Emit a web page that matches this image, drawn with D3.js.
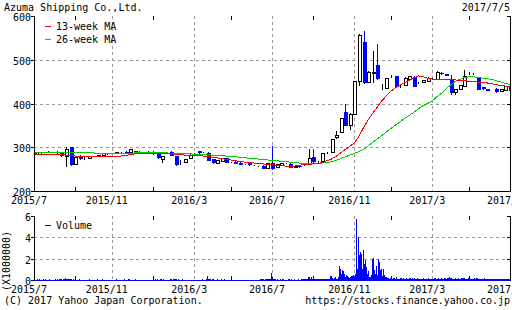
<!DOCTYPE html>
<html>
<head>
<meta charset="utf-8">
<script src="https://cdn.jsdelivr.net/npm/d3@7"></script>
<style>
body { margin: 0; background: #fff; }
svg { display: block; }
text { font-family: "DejaVu Sans Mono", monospace; font-size: 10px; fill: #000; }
</style>
</head>
<body>
<svg width="512" height="310"></svg>
<script>
// weekly candles, 2015/7/6 .. 2017/7/3 (one entry per week)
const opens = [290,283,288,287,288,290,289,278,300,261, 281,275,274,279,278,281,285,286,285,287,
  290,288,291,290,290,289,290,284,273,286, 290,279,267,266,275,285,291,288,288,273,
  264,267,275,265,267,265,260,263,259,256, 258,251,263,254,258,264,262,253,257,260,
  263,277,266,267,286,288,322,333,381,349, 375,450,540,448,468,488,440,435,460,463,
  440,441,455,460,447,447,450,456,454,470, 467,455,425,433,440,468,468,458,437,433,
  431,434,427,430,440];
const closes = [282,289,288,289,288,286,279,295,260,277, 273,275,279,279,282,286,285,286,288,287,
  285,296,285,285,286,289,284,275,279,286, 280,259,267,273,282,285,286,288,269,263,
  270,274,265,265,262,260,260,259,259,256, 251,262,250,260,263,264,253,257,254,260,
  275,266,266,285,286,317,326,365,349,376, 450,555,446,471,472,455,440,458,460,438,
  440,458,462,438,447,452,458,456,470,467, 463,425,432,441,461,468,468,432,433,429,
  431,427,432,440,429];
const highs = [292,290,290,291,289,291,290,300,301,278, 282,277,280,280,283,287,287,288,289,289,
  291,297,292,291,290,292,291,285,281,288, 291,280,270,274,284,287,292,290,289,274,
  271,275,276,267,268,266,261,264,260,258, 259,263,303,261,264,265,263,258,258,261,
  297,297,268,287,290,320,338,367,400,378, 451,558,566,475,520,537,445,459,465,464,
  444,460,463,462,449,453,460,458,475,471, 468,466,434,442,476,472,470,460,438,434,
  432,435,433,441,441];
const lows = [280,282,286,286,287,285,278,256,258,259, 272,272,273,278,277,280,283,284,284,285,
  284,287,284,284,285,287,283,274,264,284, 279,258,259,265,274,284,285,286,268,262,
  263,266,264,264,261,259,259,258,258,255, 250,250,248,252,257,262,252,252,253,258,
  262,265,264,266,284,287,318,332,348,340, 373,440,444,446,446,453,432,434,458,437,
  436,440,453,437,445,446,449,454,453,466, 462,420,420,432,439,465,466,430,432,428,
  430,424,426,428,428];
const ma13 = [285,284,284,284,283,283,283,282,281,280, 280,279,279,279,279,279,279,279,279,280,
  281,283,285,286,286,286,286,286,285,285, 285,284,283,282,281,281,281,280,279,277,
  276,274,272,271,269,268,266,265,264,263, 262,261,260,259,258,257,257,257,259,260,
  261,262,263,265,269,273,279,287,295,302, 310,325,345,362,378,392,406,418,428,436,
  442,448,453,459,463,461,458,456,455,454, 454,454,454,453,452,451,450,449,448,447,
  445,443,441,440,438];
const ma26 = [289,289,289,289,289,289,289,289,288,288, 288,287,287,287,286,286,286,286,286,286,
  286,286,287,287,287,287,287,287,287,287, 286,286,286,285,285,284,284,283,283,282,
  282,281,280,279,278,277,276,275,274,273, 272,271,270,269,268,267,266,265,264,264,
  264,264,264,264,265,267,270,274,278,282, 286,290,295,303,311,319,327,335,343,351,
  358,366,373,380,388,395,400,406,415,423, 433,442,450,455,459,461,461,460,458,457,
  455,452,449,446,443];
// daily volume in millions of shares, five trading days per week
const volume = [
  [0.06,0.04,0.05,0.03,0.04],[0.03,0.05,0.04,0.06,0.03],[0.04,0.03,0.05,0.04,0.02],[0.05,0.04,0.03,0.04,0.05],
  [0.03,0.02,0.04,0.03,0.04],[0.04,0.06,0.03,0.05,0.04],[0.05,0.07,0.06,0.04,0.05],[0.08,0.16,0.12,0.07,0.05],
  [0.1,0.08,0.06,0.05,0.04],[0.05,0.04,0.06,0.03,0.04],[0.04,0.03,0.05,0.04,0.03],[0.03,0.04,0.02,0.03,0.04],
  [0.04,0.03,0.04,0.05,0.03],[0.03,0.02,0.03,0.04,0.03],[0.04,0.05,0.03,0.04,0.03],[0.03,0.04,0.05,0.03,0.02],
  [0.02,0.03,0.04,0.03,0.03],[0.03,0.04,0.03,0.02,0.04],[0.04,0.03,0.05,0.04,0.03],[0.03,0.02,0.03,0.04,0.03],
  [0.04,0.05,0.03,0.04,0.03],[0.05,0.06,0.04,0.03,0.04],[0.04,0.03,0.04,0.05,0.03],[0.03,0.04,0.03,0.02,0.03],
  [0.03,0.02,0.04,0.03,0.02],[0.04,0.03,0.03,0.04,0.03],[0.03,0.04,0.05,0.03,0.04],[0.05,0.04,0.06,0.04,0.03],
  [0.06,0.05,0.04,0.05,0.04],[0.03,0.04,0.03,0.03,0.04],[0.04,0.05,0.06,0.04,0.05],[0.07,0.06,0.08,0.05,0.04],
  [0.05,0.04,0.03,0.04,0.05],[0.04,0.03,0.04,0.03,0.04],[0.03,0.04,0.03,0.04,0.03],[0.03,0.02,0.03,0.04,0.03],
  [0.04,0.03,0.03,0.02,0.04],[0.04,0.05,0.04,0.03,0.04],[0.06,0.36,0.12,0.06,0.05],[0.05,0.04,0.06,0.05,0.04],
  [0.04,0.03,0.04,0.05,0.03],[0.03,0.04,0.05,0.04,0.03],[0.05,0.04,0.03,0.04,0.04],[0.03,0.02,0.03,0.04,0.03],
  [0.04,0.03,0.04,0.03,0.02],[0.03,0.03,0.02,0.03,0.04],[0.02,0.03,0.03,0.02,0.03],[0.03,0.04,0.03,0.03,0.02],
  [0.03,0.02,0.04,0.03,0.03],[0.04,0.03,0.03,0.04,0.05],[0.05,0.04,0.06,0.05,0.04],[0.06,0.05,0.07,0.08,0.06],
  [0.12,0.62,0.25,0.1,0.08],[0.06,0.05,0.04,0.05,0.04],[0.04,0.05,0.03,0.04,0.05],[0.05,0.04,0.04,0.03,0.04],
  [0.05,0.06,0.04,0.05,0.04],[0.04,0.03,0.05,0.04,0.03],[0.04,0.05,0.04,0.03,0.05],[0.05,0.06,0.05,0.04,0.06],
  [0.08,0.12,0.3,0.27,0.12],[0.26,0.1,0.07,0.06,0.05],[0.06,0.05,0.07,0.05,0.06],[0.08,0.1,0.07,0.09,0.06],
  [0.1,0.12,0.08,0.1,0.09],[0.12,0.36,0.38,0.15,0.1],[0.18,0.32,0.12,0.1,0.08],[0.3,1.3,1.05,0.6,0.9],
  [0.8,0.55,0.3,0.45,0.35],[0.38,0.3,0.2,0.32,0.36],[0.4,0.5,0.35,0.6,5.7],[1.0,4.0,0.8,2.3,2.6],
  [2.4,1.0,2.8,1.5,1.9],[1.2,0.6,0.8,0.3,0.2],[0.3,0.5,2.0,2.1,0.9],[0.6,1.3,0.5,2.0,1.7],
  [0.5,0.9,1.0,0.4,1.0],[0.5,0.3,0.25,0.15,0.2],[0.1,0.15,0.3,0.1,0.12],[0.15,0.2,0.12,0.25,0.1],
  [0.12,0.08,0.2,0.1,0.15],[0.1,0.18,0.12,0.08,0.15],[0.12,0.1,0.15,0.2,0.1],[0.15,0.12,0.1,0.18,0.12],
  [0.1,0.15,0.12,0.1,0.08],[0.12,0.1,0.15,0.08,0.1],[0.1,0.12,0.08,0.15,0.1],[0.08,0.1,0.12,0.1,0.15],
  [0.2,0.15,0.12,0.1,0.18],[0.12,0.1,0.15,0.12,0.1],[0.15,0.2,0.12,0.1,0.15],[0.2,0.25,0.15,0.18,0.12],
  [0.12,0.1,0.15,0.12,0.1],[0.1,0.15,0.12,0.1,0.15],[0.18,0.2,0.15,0.12,0.1],[0.12,0.1,0.15,0.1,0.12],
  [0.1,0.12,0.1,0.15,0.1],[0.15,0.2,0.12,0.1,0.12],[0.1,0.12,0.08,0.1,0.15],[0.1,0.08,0.12,0.1,0.08],
  [0.08,0.1,0.12,0.08,0.1],[0.1,0.12,0.08,0.1,0.08],[0.08,0.1,0.08,0.12,0.1],[0.1,0.08,0.1,0.12,0.08],
  [0.1,0.12,0.1,0.08,0.1]];

const priceTicks = [200, 300, 400, 500, 600];
const volTicks = [0, 2, 4, 6];
const monthLabels = ["2015/7", "2015/11", "2016/3", "2016/7", "2016/11", "2017/3", "2017/7"];
const minorMonths = ["2015/9", "2016/1", "2016/5", "2016/9", "2017/1", "2017/5"];

const weeks = d3.timeMonday.range(new Date(2015, 6, 6), new Date(2017, 6, 4));
const candles = weeks.map((w, i) => ({
  week: w, open: opens[i], high: highs[i], low: lows[i], close: closes[i],
  ma13: ma13[i], ma26: ma26[i]
}));
// daily volume: position is week index + day offset
const days = [];
volume.forEach((wk, i) => wk.forEach((v, d) => days.push({ t: i + (d - 2) / 5, vol: v })));

const left = 34, right = 510;
const svg = d3.select("svg");
const x = d3.scaleLinear().domain([0, weeks.length - 1]).range([left, right]);
const y = d3.scaleLinear().domain([200, 600]).range([191, 16]);
const yv = d3.scaleLinear().domain([0, 6]).range([280, 216]);

// first week of a given "yyyy/m" month
const parseMonth = d3.timeParse("%Y/%m");
const weekOfMonth = function(label) {
  const m = parseMonth(label);
  return weeks.findIndex(w => w >= m);
};
const majorIdx = monthLabels.map(weekOfMonth);
const minorIdx = minorMonths.map(weekOfMonth);

const up = "#000", down = "#0000ff";

function drawPanel(g, yScale, ticks, top, bottom, gridTicks) {
  g.selectAll(".hgrid").data(gridTicks).enter().append("line")
      .attr("x1", left).attr("x2", right)
      .attr("y1", d => Math.round(yScale(d)) + 0.5).attr("y2", d => Math.round(yScale(d)) + 0.5)
      .attr("stroke", "#999").attr("stroke-dasharray", "3,3");
  g.selectAll(".vgrid").data(majorIdx.slice(1, -1)).enter().append("line")
      .attr("x1", d => Math.round(x(d)) + 0.5).attr("x2", d => Math.round(x(d)) + 0.5)
      .attr("y1", top).attr("y2", bottom)
      .attr("stroke", "#999").attr("stroke-dasharray", "3,3");
  // minor ticks, top and bottom
  minorIdx.forEach(d => {
    const xx = Math.round(x(d)) + 0.5;
    g.append("line").attr("x1", xx).attr("x2", xx).attr("y1", bottom).attr("y2", bottom - 4).attr("stroke", "#000");
    g.append("line").attr("x1", xx).attr("x2", xx).attr("y1", top).attr("y2", top + 4).attr("stroke", "#000");
  });
  g.append("line").attr("x1", left + 0.5).attr("x2", left + 0.5).attr("y1", top).attr("y2", bottom + 0.5).attr("stroke", "#000");
  g.append("line").attr("x1", right + 0.5).attr("x2", right + 0.5).attr("y1", top).attr("y2", bottom + 0.5).attr("stroke", "#000");
  g.append("line").attr("x1", left).attr("x2", right + 1).attr("y1", bottom + 0.5).attr("y2", bottom + 0.5).attr("stroke", "#000");
  ticks.forEach(t => {
    const yy = Math.round(yScale(t)) + 0.5;
    g.append("line").attr("x1", left - 3).attr("x2", left).attr("y1", yy).attr("y2", yy).attr("stroke", "#000");
    g.append("line").attr("x1", right - 3).attr("x2", right).attr("y1", yy).attr("y2", yy).attr("stroke", "#000");
    g.append("text").attr("x", left - 3).attr("y", yy + 4).attr("text-anchor", "end").text(t);
  });
  g.selectAll(".xlab").data(majorIdx).enter().append("text")
      .attr("x", (d, i) => x(d) - 5).attr("y", bottom + 13)
      .attr("text-anchor", "middle")
      .text((d, i) => monthLabels[i]);
}

// ---- price panel
const main = svg.append("g");
drawPanel(main, y, priceTicks, 16, 191, [300, 400, 500]);

svg.append("clipPath").attr("id", "clip").append("rect")
    .attr("x", left + 1).attr("y", 16).attr("width", right - left - 1).attr("height", 175);
const plot = svg.append("g").attr("clip-path", "url(#clip)").attr("shape-rendering", "crispEdges");

plot.selectAll(".wick").data(candles).enter().append("line")
    .attr("x1", (d, i) => Math.round(x(i)) + 0.5).attr("x2", (d, i) => Math.round(x(i)) + 0.5)
    .attr("y1", d => y(d.high)).attr("y2", d => y(d.low))
    .attr("stroke", d => d.close < d.open ? down : up);

plot.selectAll(".body").data(candles).enter().append("rect")
    .attr("x", (d, i) => d.close < d.open ? Math.round(x(i)) - 1.5 : Math.round(x(i)) - 1)
    .attr("width", d => d.close < d.open ? 4 : 3)
    .attr("y", d => d.close < d.open ? y(d.open) : y(d.close))
    .attr("height", d => Math.max(0, Math.abs(y(d.open) - y(d.close))))
    .attr("fill", d => d.close < d.open ? down : "#fff")
    .attr("stroke", d => d.close < d.open ? "none" : up);

const line13 = d3.line().x((d, i) => x(i)).y(d => y(d.ma13));
const line26 = d3.line().x((d, i) => x(i)).y(d => y(d.ma26));
const lines = svg.append("g").attr("clip-path", "url(#clip)").attr("shape-rendering", "crispEdges");
lines.append("path").datum(candles).attr("d", line26).attr("fill", "none").attr("stroke", "#00cc00").attr("stroke-width", 1);
lines.append("path").datum(candles).attr("d", line13).attr("fill", "none").attr("stroke", "#ff0000").attr("stroke-width", 1);

// legend
[["13-week MA", "#ff0000", 26], ["26-week MA", "#00cc00", 39]].forEach(l => {
  svg.append("line").attr("x1", 45).attr("x2", 51).attr("y1", l[2] + 0.5).attr("y2", l[2] + 0.5).attr("stroke", l[1]);
  svg.append("text").attr("x", 56).attr("y", l[2] + 4).text(l[0]);
});

// ---- volume panel
const vol = svg.append("g");
drawPanel(vol, yv, volTicks, 216, 280, [2, 4]);
svg.append("clipPath").attr("id", "clip2").append("rect")
    .attr("x", left + 1).attr("y", 216).attr("width", right - left - 1).attr("height", 65);
svg.append("g").attr("clip-path", "url(#clip2)").attr("shape-rendering", "crispEdges")
  .selectAll("rect").data(days).enter().append("rect")
    .attr("x", d => Math.floor(x(d.t)))
    .attr("width", 1)
    .attr("y", d => Math.min(Math.round(yv(d.vol)), 280))
    .attr("height", d => 281 - Math.min(Math.round(yv(d.vol)), 280))
    .attr("fill", down);

svg.append("line").attr("x1", 45).attr("x2", 51).attr("y1", 225.5).attr("y2", 225.5).attr("stroke", down);
svg.append("text").attr("x", 56).attr("y", 229).text("Volume");
svg.append("text").attr("transform", "translate(10,261) rotate(-90)").attr("text-anchor", "middle").text("(X1000000)");

// titles
svg.append("text").attr("x", 4).attr("y", 11).text("Azuma Shipping Co.,Ltd.");
svg.append("text").attr("x", 510).attr("y", 11).attr("text-anchor", "end").text("2017/7/5");
svg.append("text").attr("x", 4).attr("y", 304).text("(C) 2017 Yahoo Japan Corporation.");
svg.append("text").attr("x", 510).attr("y", 304).attr("text-anchor", "end").text("https://stocks.finance.yahoo.co.jp");
</script>
</body>
</html>
